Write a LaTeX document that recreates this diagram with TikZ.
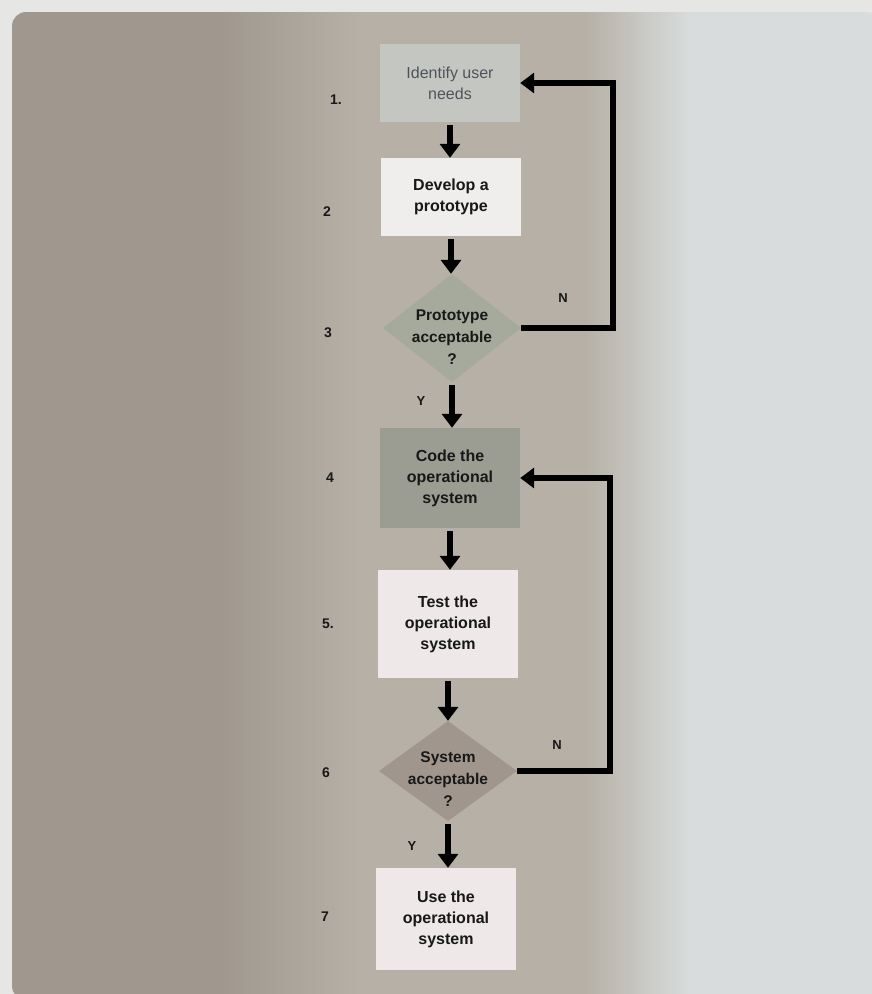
\documentclass[tikz,border=0pt]{standalone}
\usepackage{fontspec}
\setmainfont{Liberation Sans}
\usetikzlibrary{shapes.geometric,arrows.meta}

\definecolor{pagelight}{RGB}{230,231,229}
\definecolor{toneleft}{RGB}{160,152,142}
\definecolor{tonemid}{RGB}{182,176,166}
\definecolor{toneright}{RGB}{216,220,220}
\definecolor{boxgrey}{RGB}{196,198,194}
\definecolor{boxdark}{RGB}{156,157,146}
\definecolor{boxwhite}{RGB}{240,238,236}
\definecolor{boxpink}{RGB}{238,232,232}
\definecolor{diagreen}{RGB}{166,170,156}
\definecolor{diabrown}{RGB}{160,150,142}
\definecolor{ink}{RGB}{24,24,24}
\definecolor{fadedink}{RGB}{80,84,90}

\pgfdeclarehorizontalshading{pagetone}{100bp}{%
  color(0bp)=(toneleft); color(37bp)=(toneleft); color(45bp)=(tonemid);
  color(58bp)=(tonemid); color(64bp)=(toneright); color(100bp)=(toneright)}

\tikzset{
  stepbox/.style={rectangle, draw=none, minimum width=140pt, minimum height=78pt,
    align=center, font=\fontsize{16}{21}\selectfont\bfseries, text=ink, inner sep=2pt},
  decision/.style={diamond, draw=none, minimum width=138pt, minimum height=108pt,
    inner sep=0pt},
  decisiontext/.style={align=center, font=\fontsize{15.5}{22}\selectfont\bfseries, text=ink},
  stepno/.style={font=\fontsize{14}{14}\selectfont\bfseries, text=ink},
  branch/.style={font=\fontsize{13}{13}\selectfont\bfseries, text=ink},
  flow/.style={line width=6.5pt, draw=black, shorten <=3pt,
    -{Triangle[length=14pt,width=20pt]}},
}

\begin{document}
\begin{tikzpicture}[x=1pt,y=-1pt]
  % page and its shaded inset panel
  \useasboundingbox (0,0) rectangle (872,994);
  \fill[pagelight] (0,0) rectangle (872,994);
  \shade[shading=pagetone, rounded corners=14pt] (12,12) rectangle (880,1000);

  % process steps
  \node[stepbox, fill=boxgrey, text=fadedink, font=\fontsize{16}{21}\selectfont] (n1) at (450,83) {Identify user\\needs};
  \node[stepbox, fill=boxwhite] (n2) at (451,197) {Develop a\\prototype};
  \node[decision, fill=diagreen] (d3) at (452,328) {};
  \node[decisiontext] (d3t) at (452,337) {Prototype\\acceptable\\?};
  \node[stepbox, fill=boxdark, minimum height=100pt] (n4) at (450,478) {Code the\\operational\\system};
  \node[stepbox, fill=boxpink, minimum height=108pt] (n5) at (448,624) {Test the\\operational\\system};
  \node[decision, fill=diabrown, minimum height=100pt] (d6) at (448,771) {};
  \node[decisiontext] (d6t) at (448,779) {System\\acceptable\\?};
  \node[stepbox, fill=boxpink, minimum height=102pt] (n7) at (446,919) {Use the\\operational\\system};

  % step numbers
  \node[stepno] (s1) at (336,100) {1.};
  \node[stepno] (s2) at (327,212) {2};
  \node[stepno] (s3) at (328,333) {3};
  \node[stepno] (s4) at (330,478) {4};
  \node[stepno] (s5) at (328,624) {5.};
  \node[stepno] (s6) at (326,773) {6};
  \node[stepno] (s7) at (325,917) {7};

  % main flow, each arrow straight down from the step above
  \draw[flow] (n1.south) -- (n1.south |- n2.north);
  \draw[flow] (n2.south) -- (n2.south |- d3.north);
  \draw[flow] (d3.south) -- (d3.south |- n4.north);
  \draw[flow] (n4.south) -- (n4.south |- n5.north);
  \draw[flow] (n5.south) -- (n5.south |- d6.north);
  \draw[flow] (d6.south) -- (d6.south |- n7.north);

  % rework loops
  \draw[flow, shorten <=0pt] (d3.east) -- ++(92,0) |- (n1.east);
  \draw[flow, shorten <=0pt] (d6.east) -- ++(93,0) |- (n4.east);

  % branch labels
  \node[branch] (y3) at (421,401) {Y};
  \node[branch] (n3l) at (563,298) {N};
  \node[branch] (y6) at (412,846) {Y};
  \node[branch] (n6l) at (557,745) {N};
\end{tikzpicture}
\end{document}
